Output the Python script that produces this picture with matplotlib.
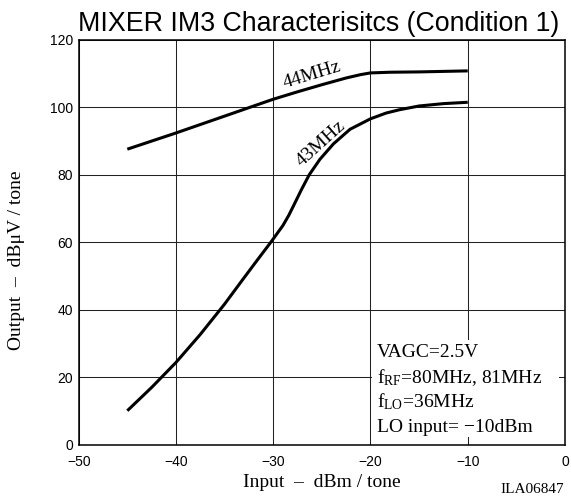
import matplotlib
matplotlib.use("Agg")
import matplotlib.pyplot as plt
from matplotlib.patches import Rectangle

# ---- data ----
x43 = [-45, -42.5, -40, -37.5, -35, -33.1, -31.7, -30.2, -29.0, -28.4, -27.9, -27.1, -26.3,
       -25.2, -23.8, -22.1, -20, -18.4, -17, -15, -12.5, -10]
y43 = [10.1, 17.0, 24.4, 32.7, 41.7, 49.1, 54.5, 60.2, 65.0, 68.0, 70.9, 75.6, 80.0,
       84.6, 89.2, 93.5, 96.6, 98.3, 99.3, 100.4, 101.1, 101.5]

x44 = [-45, -40, -35, -30, -27.5, -25, -22.5, -21, -20, -18, -15, -10]
y44 = [87.6, 92.4, 97.4, 102.4, 104.6, 106.7, 108.7, 109.7, 110.2, 110.4, 110.5, 110.8]

xticks = [-50, -40, -30, -20, -10, 0]
yticks = [0, 20, 40, 60, 80, 100, 120]

title = "MIXER IM3 Characterisitcs (Condition 1)"
xlabel = "Input  \u2013  dBm / tone"
ylabel = "Output  \u2013  dB\u03bcV / tone"
notes = ["VAGC=2.5V", r"f$_{\mathrm{RF}}$=80MHz, 81MHz", r"f$_{\mathrm{LO}}$=36MHz", "LO input= \u221210dBm"]
code = "ILA06847"

plt.rcParams["mathtext.fontset"] = "custom"
plt.rcParams["mathtext.rm"] = "Liberation Serif"
plt.rcParams["mathtext.it"] = "Liberation Serif:italic"

SERIF = "Liberation Serif"
SANS = "Liberation Sans"

fig = plt.figure(figsize=(5.71, 4.98), dpi=100)
ax = fig.add_axes([0.1378, 0.1068, 0.8517, 0.8132])

ax.set_xlim(-50, 0)
ax.set_ylim(0, 120)
ax.set_xticks(xticks)
ax.set_yticks(yticks)
ax.tick_params(length=0, labelsize=10, pad=4)
ax.tick_params(axis="x", pad=7)
for lab in ax.get_xticklabels() + ax.get_yticklabels():
    lab.set_fontfamily(SANS)

ax.grid(True, color="#222222", linewidth=0.75)
ax.set_axisbelow(True)
for s in ax.spines.values():
    s.set_linewidth(1.1)
    s.set_color("black")

ax.plot(x44, y44, color="black", linewidth=2.2, solid_capstyle="butt",
        solid_joinstyle="round", zorder=3)
ax.plot(x43, y43, color="black", linewidth=2.2, solid_capstyle="butt",
        solid_joinstyle="round", zorder=3)

ax.text(-26.0, 109.6, "44MHz", family=SERIF, fontsize=14, rotation=17,
        rotation_mode="anchor", ha="center", va="center", zorder=4)
ax.text(-25.1, 89.3, "43MHz", family=SERIF, fontsize=14, rotation=42,
        rotation_mode="anchor", ha="center", va="center", zorder=4)

# white box behind the condition notes
ax.add_patch(Rectangle((-19.8, 2.3), 19.15, 28.8, facecolor="white",
                       edgecolor="none", zorder=2))
note_y = [26.1, 18.2, 11.1, 3.7]
for t, yy in zip(notes, note_y):
    ax.text(-19.37, yy, t, family=SERIF, fontsize=14, ha="left", va="baseline", zorder=4)

ax.set_xlabel(xlabel, family=SERIF, fontsize=14)
ax.xaxis.label.set_va("baseline")
ax.xaxis.set_label_coords(0.5, -0.104)
ax.set_ylabel(ylabel, family=SERIF, fontsize=14)
ax.yaxis.set_label_coords(-0.110, 0.456)

ax.set_title(title, family=SANS, fontsize=19.3, x=0.494, y=1.0217, va="baseline", pad=0)

fig.text(564 / 571, 1 - 493 / 498, code, family=SERIF, fontsize=11, ha="right", va="baseline")

fig.savefig("out.png", dpi=100)
